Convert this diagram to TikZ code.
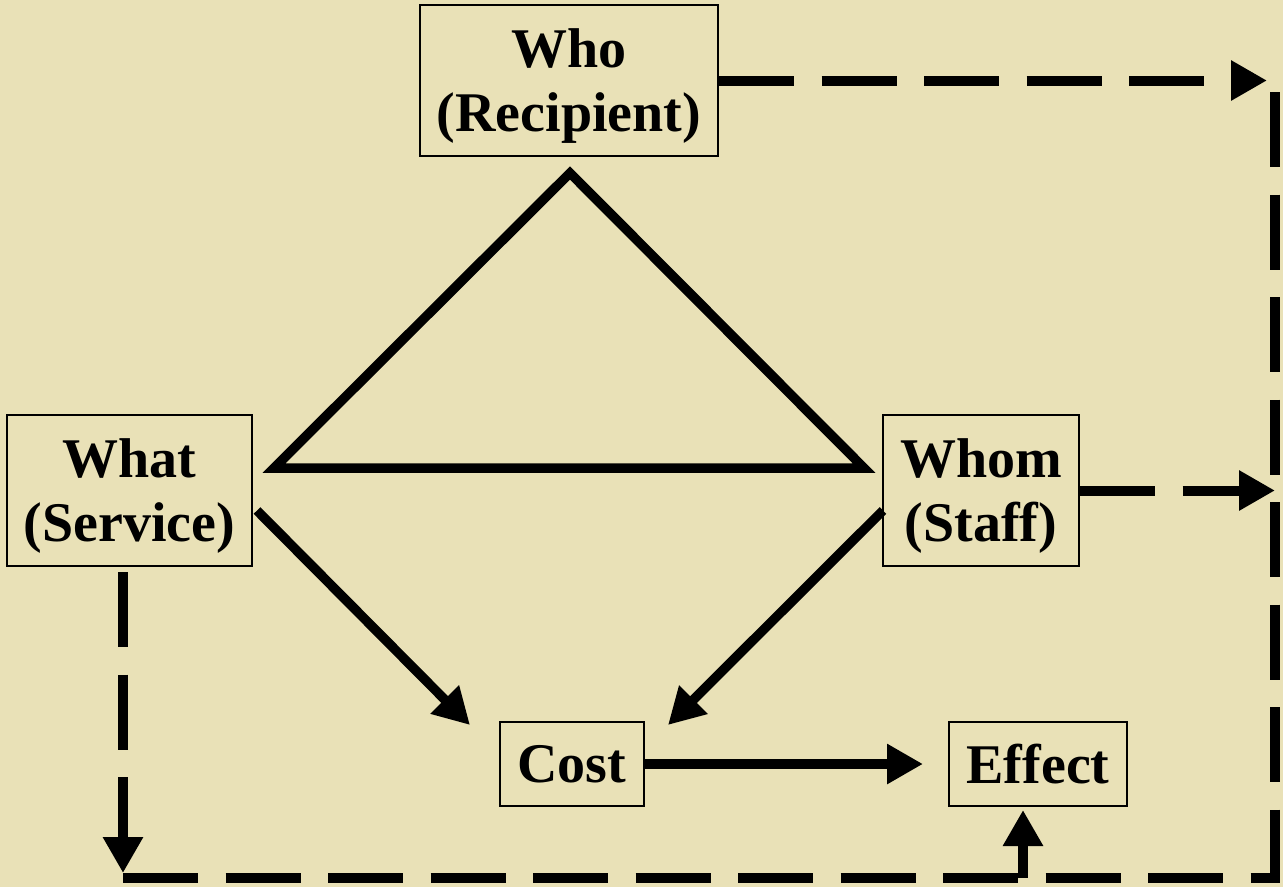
\documentclass[tikz,border=0pt]{standalone}
\usepackage{fontspec}
\setmainfont{Liberation Serif}
\usetikzlibrary{arrows.meta, positioning}
\definecolor{paper}{RGB}{233,225,183}

\begin{document}
\begin{tikzpicture}[
    x=1pt, y=-1pt,
    every node/.style={draw, fill=paper, line width=2pt, align=center, inner sep=0pt,
      font=\bfseries\fontsize{56}{64}\selectfont},
    twoline/.style={minimum height=151pt, text depth=0pt},
    solidline/.style={line width=9.5pt},
    dashline/.style={line width=10pt, dash pattern=on 75pt off 27.5pt},
    >={Triangle[length=36pt, width=38pt]} % Arrow style
]

% Background
\fill[paper] (0,0) rectangle (1283,887);
\useasboundingbox (0,0) rectangle (1283,887);

% Nodes
\node[twoline, minimum width=245pt] (What) at (129.5,490.5) {What\\(Service)};
\node[twoline, minimum width=196pt, right=629pt of What] (Whom) {Whom\\(Staff)};
\node[minimum width=144pt, minimum height=84pt, below right=154pt and 246pt of What] (Cost) {Cost};
\node[minimum width=178pt, minimum height=84pt, right=303pt of Cost] (Effect) {Effect};
\node[twoline, minimum width=298pt, above=564pt of Cost, xshift=-3pt] (Who) {Who\\(Recipient)};

% Corners of the dashed frame
\coordinate (TR) at (1275,92);
\coordinate (BR) at (1275,883);
\coordinate (BL) at (123,878);

% Triangle
\draw[solidline] ([xshift=1pt,yshift=-16pt]Who.south) -- ([xshift=21pt,yshift=22.5pt]What.east)
  -- ([xshift=-18pt,yshift=22.5pt]Whom.west) -- cycle;

% Arrows
\draw[solidline,->] ([xshift=4pt,yshift=-20pt]What.east) -- ([xshift=-29pt,yshift=-4pt]Cost.north west);
\draw[solidline,->] ([xshift=1pt,yshift=-20pt]Whom.west) -- ([xshift=23pt,yshift=-4pt]Cost.north east);
\draw[solidline,->] (Cost.east) -- ([xshift=-25pt]Effect.west);

% Dashed arrows
\draw[dashline,->,shorten >=8pt] (Who.east) -- (Who.east -| TR);
\draw[dashline,->] (Whom.east) -- (Whom.east -| TR);
\draw[dashline,->,shorten <=5pt,shorten >=5pt] (What.south -| BL) -- (BL);
\draw[dashline,shorten >=5pt] (BL) -- (BL -| BR);
\draw[dashline] (TR) -- (BR);
\path ([xshift=-15pt]Effect.south) coordinate (EffIn);
\draw[solidline,->,shorten >=3pt] (EffIn |- BL) -- (EffIn);

\end{tikzpicture}
\end{document}
